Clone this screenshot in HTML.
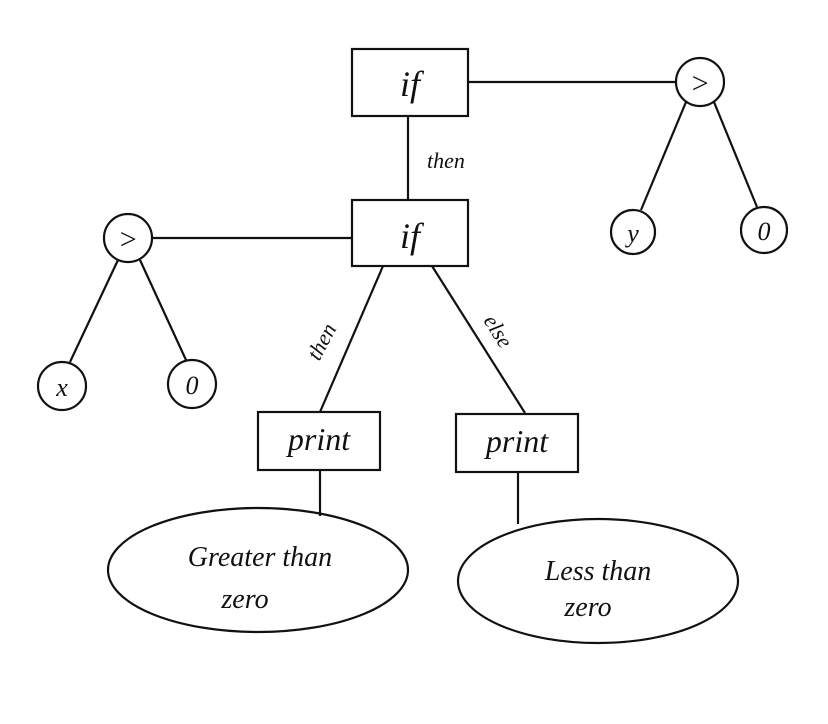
<!DOCTYPE html>
<html><head><meta charset="utf-8"><style>
html,body{margin:0;padding:0;background:#fff;}
svg text{font-family:"Liberation Serif",serif;font-style:italic;fill:#111;}
</style></head><body>
<svg width="828" height="719" viewBox="0 0 828 719" xmlns="http://www.w3.org/2000/svg">
<g stroke="#111" stroke-width="2.2" fill="none">
<rect x="352" y="49" width="116" height="67"/>
<line x1="468" y1="82" x2="676" y2="82"/>
<circle cx="700" cy="82" r="24"/>
<line x1="686" y1="102" x2="641" y2="210"/>
<line x1="714" y1="102" x2="757" y2="207"/>
<circle cx="633" cy="232" r="22"/>
<circle cx="764" cy="230" r="23"/>
<line x1="408" y1="116" x2="408" y2="200"/>
<rect x="352" y="200" width="116" height="66"/>
<line x1="352" y1="238" x2="153" y2="238"/>
<circle cx="128" cy="238" r="24"/>
<line x1="118" y1="260" x2="70" y2="362"/>
<line x1="140" y1="260" x2="186" y2="360"/>
<circle cx="62" cy="386" r="24"/>
<circle cx="192" cy="384" r="24"/>
<line x1="383" y1="266" x2="320" y2="412"/>
<line x1="432" y1="266" x2="525" y2="413"/>
<rect x="258" y="412" width="122" height="58"/>
<rect x="456" y="414" width="122" height="58"/>
<line x1="320" y1="470" x2="320" y2="516"/>
<line x1="518" y1="472" x2="518" y2="524"/>
<ellipse cx="258" cy="570" rx="150" ry="62"/>
<ellipse cx="598" cy="581" rx="140" ry="62"/>
</g>
<text x="410" y="96" font-size="36" text-anchor="middle">if</text>
<text x="410" y="248" font-size="36" text-anchor="middle">if</text>
<text x="700" y="93" font-size="30" text-anchor="middle">&gt;</text>
<text x="128" y="249" font-size="30" text-anchor="middle">&gt;</text>
<text x="633" y="242" font-size="26" text-anchor="middle">y</text>
<text x="764" y="240" font-size="26" text-anchor="middle">0</text>
<text x="62" y="396" font-size="26" text-anchor="middle">x</text>
<text x="192" y="394" font-size="26" text-anchor="middle">0</text>
<text x="446" y="168" font-size="22" text-anchor="middle">then</text>
<text x="0" y="0" font-size="22" text-anchor="middle" transform="translate(328,345) rotate(-62)">then</text>
<text x="0" y="0" font-size="22" text-anchor="middle" transform="translate(492,335) rotate(58)">else</text>
<text x="319" y="450" font-size="32" text-anchor="middle">print</text>
<text x="517" y="452" font-size="32" text-anchor="middle">print</text>
<text x="260" y="566" font-size="28" text-anchor="middle">Greater than</text>
<text x="245" y="608" font-size="28" text-anchor="middle">zero</text>
<text x="598" y="580" font-size="28" text-anchor="middle">Less than</text>
<text x="588" y="616" font-size="28" text-anchor="middle">zero</text>
</svg>
</body></html>
